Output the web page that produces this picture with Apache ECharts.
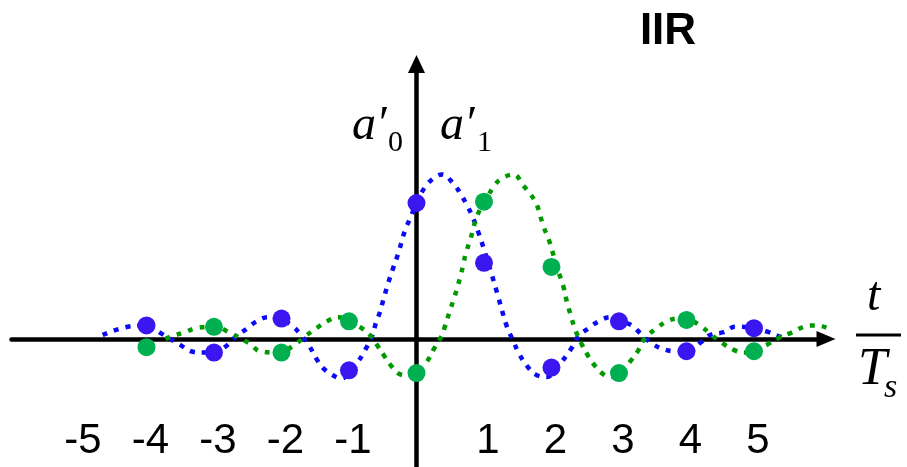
<!DOCTYPE html>
<html>
<head>
<meta charset="utf-8">
<style>
  html, body { margin: 0; padding: 0; background: #fff; }
  #chart { width: 907px; height: 467px; }
</style>
<script src="https://cdn.jsdelivr.net/npm/echarts@6/dist/echarts.min.js"></script>
</head>
<body>
<div id="chart"></div>
<script>
// Sample instants t/Ts and the sampled coefficients
const sampleT = [-4, -3, -2, -1, 0, 1, 2, 3, 4, 5];
const blueSamples = [0.10, -0.10, 0.15, -0.23, 1.00, 0.56, -0.21, 0.13, -0.09, 0.08];
const greenSamples = [-0.06, 0.09, -0.10, 0.13, -0.25, 1.01, 0.53, -0.25, 0.14, -0.09];

// Continuous impulse responses (dotted curves)
const blueCurveT = [-4.65, -4.28, -4.00, -3.78, -3.51, -3.34, -3.17, -3.00, -2.84, -2.67, -2.50, -2.37, -2.20, -2.04,
  -1.85, -1.73, -1.59, -1.49, -1.39, -1.26, -1.11, -0.98, -0.87, -0.76, -0.66, -0.60, -0.54, -0.49, -0.42, -0.34,
  -0.27, -0.17, -0.10, 0.00, 0.13, 0.25, 0.38, 0.55, 0.65, 0.74, 0.82, 0.92, 1.05, 1.20, 1.34, 1.44, 1.51, 1.64,
  1.76, 1.93, 2.08, 2.28, 2.40, 2.55, 2.70, 2.87, 3.03, 3.19, 3.32, 3.51, 3.69, 3.84, 4.04, 4.20, 4.35, 4.55, 4.72,
  5.00, 5.22, 5.37, 5.50];
const blueCurveY = [0.03, 0.09, 0.10, 0.04, -0.04, -0.09, -0.10, -0.10, -0.06, 0.02, 0.08, 0.13, 0.16, 0.15,
  0.10, 0.04, -0.05, -0.14, -0.21, -0.26, -0.29, -0.24, -0.17, -0.08, 0.02, 0.12, 0.20, 0.29, 0.41, 0.53,
  0.63, 0.80, 0.88, 1.00, 1.12, 1.18, 1.21, 1.14, 1.07, 0.99, 0.91, 0.78, 0.58, 0.33, 0.09, -0.02, -0.10, -0.20,
  -0.26, -0.28, -0.21, -0.08, 0.02, 0.08, 0.13, 0.16, 0.13, 0.10, 0.04, -0.04, -0.08, -0.09, -0.09, -0.03, 0.03, 0.05, 0.09,
  0.08, 0.05, 0.02, 0.00];

const greenCurveT = [-3.72, -3.63, -3.43, -3.26, -3.00, -2.74, -2.59, -2.45, -2.32, -2.04, -1.80, -1.65, -1.48, -1.33,
  -1.16, -0.98, -0.84, -0.69, -0.59, -0.47, -0.37, -0.24, -0.10, 0.00, 0.15, 0.25, 0.37, 0.42, 0.49, 0.55, 0.60, 0.65,
  0.69, 0.73, 0.79, 0.83, 0.88, 0.94, 1.04, 1.14, 1.26, 1.44, 1.58, 1.68, 1.78, 1.88, 1.96, 2.01, 2.08, 2.18, 2.23,
  2.30, 2.35, 2.45, 2.55, 2.65, 2.77, 2.87, 3.03, 3.19, 3.29, 3.39, 3.56, 3.71, 3.87, 4.04, 4.20, 4.35, 4.53, 4.70,
  4.86, 5.00, 5.20, 5.37, 5.57, 5.74, 5.91, 6.09, 6.21];
const greenCurveY = [0.00, 0.02, 0.05, 0.08, 0.09, 0.04, 0.00, -0.04, -0.09, -0.10, -0.04, 0.02, 0.08, 0.13,
  0.16, 0.13, 0.09, 0.03, -0.04, -0.13, -0.20, -0.26, -0.27, -0.25, -0.17, -0.08, 0.02, 0.09, 0.20, 0.29, 0.37, 0.46,
  0.54, 0.63, 0.72, 0.79, 0.88, 0.95, 1.03, 1.12, 1.18, 1.21, 1.13, 1.07, 0.99, 0.83, 0.73, 0.65, 0.53, 0.38, 0.27,
  0.15, 0.07, -0.04, -0.13, -0.20, -0.26, -0.28, -0.24, -0.15, -0.08, 0.01, 0.08, 0.13, 0.15, 0.14, 0.10, 0.04, -0.03, -0.08,
  -0.10, -0.09, -0.04, 0.01, 0.05, 0.09, 0.10, 0.08, 0.04];

// Tick labels along the time axis
const tickValues = [-5, -4, -3, -2, -1, 1, 2, 3, 4, 5];
const tickLabels = ['-5', '-4', '-3', '-2', '-1', '1', '2', '3', '4', '5'];

const zip = (xs, ys) => xs.map((x, i) => [x, ys[i]]);

const chart = echarts.init(document.getElementById('chart'), null, { renderer: 'canvas' });

const serif = '"Liberation Serif", "Times New Roman", serif';
const sans = '"Liberation Sans", Arial, sans-serif';

function txt(text, x, y, size, opts) {
  opts = opts || {};
  return {
    type: 'text', x: x, y: y, z: 100,
    style: {
      text: text,
      fontSize: size,
      fontFamily: opts.family || serif,
      fontStyle: opts.italic ? 'italic' : 'normal',
      fontWeight: opts.bold ? 'bold' : 'normal',
      fill: '#000',
      align: opts.align || 'left', textAlign: opts.align || 'left',
      verticalAlign: 'top', textVerticalAlign: 'top'
    }
  };
}

chart.setOption({
  animation: false,
  backgroundColor: '#fff',
  grid: { left: 11.5, right: 81, top: 64, bottom: 0, outerBoundsMode: 'none', containLabel: false },
  xAxis: {
    type: 'value',
    min: -6, max: 6.067, interval: 1,
    axisLine: {
      onZero: true,
      lineStyle: { color: '#000', width: 4.5 },
      symbol: ['none', 'triangle'],
      symbolSize: [16, 19]
    },
    axisTick: { show: false },
    splitLine: { show: false },
    axisLabel: {
      inside: true,
      margin: 6,
      fontSize: 42,
      lineHeight: 40,
      padding: [0, 0, 0, 8],
      showMinLabel: true, showMaxLabel: false,
      hideOverlap: false,
      fontFamily: sans,
      color: '#000',
      formatter: v => {
        const i = tickValues.indexOf(Math.round(v));
        return i >= 0 ? tickLabels[i] : '';
      }
    }
  },
  yAxis: {
    type: 'value',
    min: -0.941, max: 2.022,
    axisLine: {
      onZero: true,
      lineStyle: { color: '#000', width: 4.5 },
      symbol: ['none', 'triangle'],
      symbolSize: [17, 18]
    },
    axisTick: { show: false },
    splitLine: { show: false },
    axisLabel: { show: false }
  },
  series: [
    {
      type: 'line', data: zip(blueCurveT, blueCurveY), smooth: 0.4, showSymbol: false, symbol: 'none',
      clip: false, z: 3,
      lineStyle: { color: '#0a0af5', width: 4.5, type: [5, 7], cap: 'butt' }
    },
    {
      type: 'line', data: zip(greenCurveT, greenCurveY), smooth: 0.4, showSymbol: false, symbol: 'none',
      clip: false, z: 3,
      lineStyle: { color: '#009a00', width: 4.5, type: [5, 7], cap: 'butt' }
    },
    {
      type: 'scatter', data: zip(sampleT, blueSamples), symbolSize: 18, z: 5,
      itemStyle: { color: '#3b16f0', opacity: 1 }
    },
    {
      type: 'scatter', data: zip(sampleT, greenSamples), symbolSize: 18, z: 5,
      itemStyle: { color: '#00b050', opacity: 1 }
    }
  ],
  graphic: [
    txt('IIR', 668, 10, 44, { family: sans, bold: true, align: 'center' }),
    txt('a\u2032', 352, 102, 48, { italic: true }),
    txt('0', 388, 128, 30),
    txt('a\u2032', 440, 102, 48, { italic: true }),
    txt('1', 477, 128, 30),
    txt('t', 867, 273, 48, { italic: true }),
    { type: 'line', z: 100, shape: { x1: 856, y1: 335, x2: 901, y2: 335 }, style: { stroke: '#000', lineWidth: 3 } },
    txt('T', 858, 344, 52, { italic: true }),
    txt('s', 884, 371, 34, { italic: true })
  ]
});
</script>
</body>
</html>
